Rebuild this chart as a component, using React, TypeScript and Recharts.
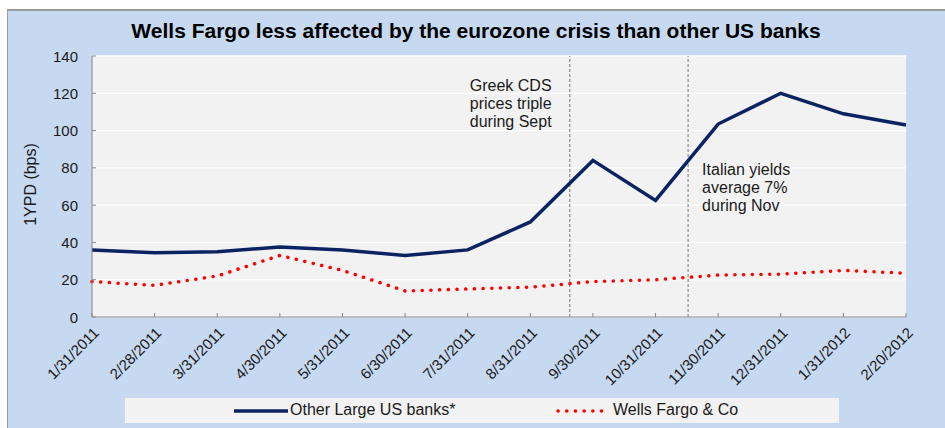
import React from 'react';
import { LineChart, Line, XAxis, YAxis, CartesianGrid, ReferenceLine, Label } from 'recharts';

const dates = [
  '1/31/2011', '2/28/2011', '3/31/2011', '4/30/2011', '5/31/2011', '6/30/2011', '7/31/2011',
  '8/31/2011', '9/30/2011', '10/31/2011', '11/30/2011', '12/31/2011', '1/31/2012', '2/20/2012',
];
const otherBanks = [36, 34.5, 35, 37.5, 36, 33, 36, 51, 84, 62.5, 103.5, 120, 109, 103];
const wellsFargo = [19, 17, 22, 33, 25, 14, 15, 16, 19, 20, 22.5, 23, 25, 23.5];
const yTicks = [0, 20, 40, 60, 80, 100, 120, 140];
const seriesNames = ['Other Large US banks*', 'Wells Fargo & Co'];
const eventPositions = [7.63, 9.52];
const eventTexts = [
  ['Greek CDS', 'prices triple', 'during Sept'],
  ['Italian yields', 'average 7%', 'during Nov'],
];
const title = 'Wells Fargo less affected by the eurozone crisis than other US banks';
const yLabel = '1YPD (bps)';

const data = dates.map((d, i) => ({ i, other: otherBanks[i], wells: wellsFargo[i] }));
const xTicks = dates.map((_, i) => i);

const FONT = '"Liberation Sans", Arial, sans-serif';
const NAVY = '#0C2361';
const RED = '#FF0000';
const AXIS = '#868686';

const XTick = (props: any) => {
  const { x, y, payload } = props;
  const ax = x + 4;
  const ay = y + 13;
  return (
    <g>
      <line x1={x} y1={y} x2={x} y2={y - 4} stroke={AXIS} />
      <text
        x={ax}
        y={ay}
        transform={`rotate(-45 ${ax} ${ay})`}
        textAnchor="end"
        dominantBaseline="central"
        fontSize={15}
        fontFamily={FONT}
        fill="#1a1a1a"
      >
        {dates[payload.value]}
      </text>
    </g>
  );
};

const YTick = (props: any) => {
  const { x, y, payload } = props;
  return (
    <g>
      <line x1={x} y1={y} x2={x + 4} y2={y} stroke={AXIS} />
      <text
        x={x - 14}
        y={y}
        textAnchor="end"
        dominantBaseline="central"
        fontSize={15}
        fontFamily={FONT}
        fill="#1a1a1a"
      >
        {payload.value}
      </text>
    </g>
  );
};

const makeEventLabel = (lines: string[], idx: number) => (props: any) => {
  const vb = props.viewBox || {};
  const x0 = idx === 0 ? vb.x - 100 : vb.x + 14;
  const y0 = idx === 0 ? vb.y + 29 : vb.y + 113;
  return (
    <g>
      {lines.map((t, k) => (
        <text
          key={k}
          x={x0}
          y={y0 + k * 18}
          dominantBaseline="central"
          fontSize={16}
          fontFamily={FONT}
          fill="#1a1a1a"
        >
          {t}
        </text>
      ))}
    </g>
  );
};

const YAxisLabel = (props: any) => {
  const vb = props.viewBox || {};
  const cx = vb.x + 30;
  const cy = vb.y + vb.height / 2 - 2;
  return (
    <text
      x={cx}
      y={cy}
      transform={`rotate(-90 ${cx} ${cy})`}
      textAnchor="middle"
      dominantBaseline="central"
      fontSize={16}
      fontFamily={FONT}
      fill="#1a1a1a"
    >
      {yLabel}
    </text>
  );
};

export default function App() {
  return (
    <div style={{ position: 'absolute', left: 0, top: 0, width: 945, height: 428, overflow: 'hidden', background: '#fff' }}>
      <div
        style={{
          position: 'absolute',
          left: 7,
          top: 9,
          width: 960,
          height: 440,
          background: '#C6D9F1',
          borderLeft: '1px solid #9a9a9a',
          borderTop: '2px solid #9a9a9a',
        }}
      />
      <div
        style={{
          position: 'absolute',
          left: 0,
          width: 952,
          top: 18,
          textAlign: 'center',
          fontFamily: FONT,
          fontWeight: 'bold',
          fontSize: 21,
          lineHeight: '26px',
          color: '#000',
          whiteSpace: 'nowrap',
        }}
      >
        {title}
      </div>
      <div style={{ position: 'absolute', left: 0, top: 0 }}>
        <LineChart width={945} height={428} data={data} margin={{ top: 56, right: 39, left: 0, bottom: 0 }}>
          <CartesianGrid vertical={false} stroke="#FFFFFF" strokeWidth={1.3} fill="#F2F2F2" />
          <XAxis
            dataKey="i"
            type="number"
            domain={[0, 13]}
            ticks={xTicks}
            interval={0}
            height={111}
            tickSize={0}
            tickMargin={0}
            tickLine={false}
            tick={<XTick />}
            stroke={AXIS}
            allowDecimals={false}
          />
          <YAxis
            domain={[0, 140]}
            ticks={yTicks}
            interval={0}
            width={92}
            tickSize={0}
            tickMargin={0}
            tickLine={false}
            tick={<YTick />}
            stroke={AXIS}
          >
            <Label content={<YAxisLabel />} />
          </YAxis>
          {eventPositions.map((p, idx) => (
            <ReferenceLine
              key={idx}
              x={p}
              stroke="#8c8c8c"
              strokeWidth={1.2}
              strokeDasharray="3 2"
              label={makeEventLabel(eventTexts[idx], idx)}
            />
          ))}
          <Line
            dataKey="other"
            stroke={NAVY}
            strokeWidth={3.5}
            dot={false}
            isAnimationActive={false}
            strokeLinejoin="miter"
          />
          <Line
            dataKey="wells"
            stroke={RED}
            strokeWidth={3.5}
            strokeDasharray="0.1 8.6"
            strokeLinecap="round"
            dot={false}
            isAnimationActive={false}
          />
        </LineChart>
      </div>
      <div
        style={{
          position: 'absolute',
          left: 125,
          top: 398,
          width: 714,
          height: 25,
          background: '#F2F2F2',
          fontFamily: FONT,
          fontSize: 16,
          color: '#1a1a1a',
        }}
      >
        <svg style={{ position: 'absolute', left: 108, top: 10 }} width={56} height={6}>
          <line x1={1} y1={3} x2={55} y2={3} stroke={NAVY} strokeWidth={3.5} />
        </svg>
        <div style={{ position: 'absolute', left: 165, top: 3, whiteSpace: 'nowrap' }}>{seriesNames[0]}</div>
        <svg style={{ position: 'absolute', left: 431, top: 10 }} width={50} height={6}>
          <line x1={2} y1={3} x2={48} y2={3} stroke={RED} strokeWidth={3.5} strokeDasharray="0.1 8.6" strokeLinecap="round" />
        </svg>
        <div style={{ position: 'absolute', left: 488, top: 3, whiteSpace: 'nowrap' }}>{seriesNames[1]}</div>
      </div>
    </div>
  );
}
